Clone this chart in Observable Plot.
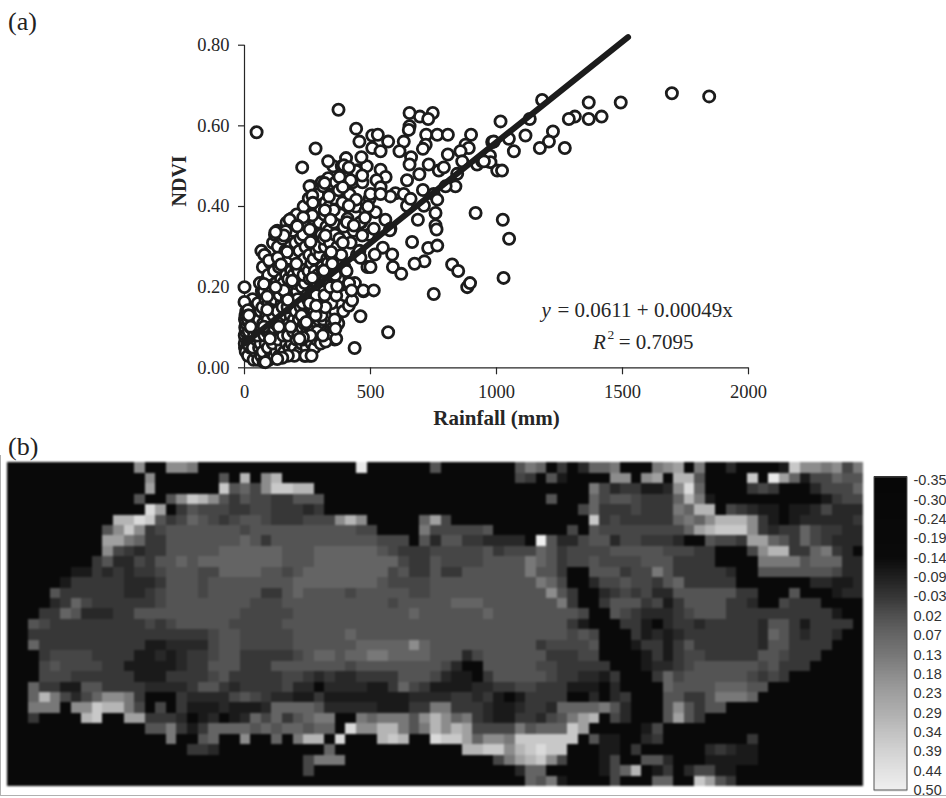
<!DOCTYPE html>
<html><head><meta charset="utf-8">
<script src="https://cdn.jsdelivr.net/npm/d3@7"></script>
<script src="https://cdn.jsdelivr.net/npm/@observablehq/plot@0.6"></script>
<style>
html,body{margin:0;padding:0;background:#fff}
#page{position:relative;width:946px;height:798px;overflow:hidden}
#page>svg{position:absolute;overflow:visible}
.tag{position:absolute;left:8px;font:26px "Liberation Serif";color:#222;line-height:28px}
</style></head><body><div id="page"></div>
<script>
// Panel (a): rainfall (mm), NDVI pairs. Back-most first.
const hiddenPairs = [
[2,.05],[4,.07],[1,.08],[5,.09],[3,.10],[6,.11],[2,.12],[4,.13],[7,.14],[1,.06],[5,.04],
[14,.03],[22,.05],[12,.06],[26,.08],[17,.09],[24,.10],[13,.12],[21,.13],[18,.15],[11,.16],
[36,.02],[44,.04],[33,.05],[47,.07],[38,.08],[42,.10],[35,.11],[46,.13],[39,.15],[32,.17],
[54,.02],[66,.03],[58,.05],[63,.06],[52,.08],[68,.10],[57,.12],[64,.14],[53,.16],[69,.19],[61,.21],
[76,.015],[88,.03],[72,.04],[84,.06],[79,.08],[90,.09],[74,.11],[86,.13],[71,.15],[83,.17],[77,.19],[89,.22],[73,.25],[81,.28],
[97,.02],[105,.04],[93,.05],[108,.07],[99,.09],[103,.10],[92,.12],[107,.14],[95,.16],[101,.18],[109,.20],[94,.23],[104,.26],
[118,.03],[126,.04],[112,.06],[129,.08],[116,.10],[123,.11],[114,.13],[128,.15],[119,.17],[111,.19],[125,.21],[117,.24],[127,.27],[113,.31],[121,.33],
[138,.03],[146,.05],[133,.07],[149,.09],[136,.10],[143,.12],[131,.14],[148,.16],[139,.18],[134,.20],[145,.22],[137,.25],[142,.28],[132,.30],[147,.33],
[158,.04],[166,.06],[153,.08],[169,.10],[156,.12],[163,.13],[151,.15],[168,.17],[159,.19],[154,.21],[165,.23],[157,.26],[162,.29],[152,.32],[167,.36],
[178,.05],[186,.06],[173,.08],[189,.10],[176,.11],[183,.13],[171,.15],[188,.18],[179,.20],[174,.22],[185,.24],[177,.27],[182,.30],[172,.33],[187,.37],
[198,.05],[206,.07],[193,.09],[209,.11],[196,.12],[203,.14],[191,.17],[208,.19],[199,.21],[194,.23],[205,.25],[197,.28],[202,.31],[192,.34],[207,.38],
[218,.04],[226,.06],[213,.08],[229,.10],[216,.12],[223,.15],[211,.17],[228,.20],[219,.22],[214,.24],[225,.26],[217,.29],[222,.32],[212,.35],
[238,.03],[246,.05],[233,.07],[249,.09],[236,.11],[243,.13],[231,.16],[248,.18],[239,.21],[234,.23],[245,.25],[237,.27],[242,.30],[232,.33],[247,.36],[235,.40],
[258,.03],[266,.06],[253,.08],[269,.10],[256,.12],[263,.15],[251,.17],[268,.19],[259,.22],[254,.24],[265,.26],[257,.28],[262,.31],[252,.35],[267,.38],[255,.42],[264,.45],
[278,.05],[286,.07],[273,.09],[289,.11],[276,.14],[283,.16],[271,.19],[288,.21],[279,.24],[274,.27],[285,.29],[277,.32],[282,.34],[272,.37],[287,.41],[275,.44],
[298,.08],[306,.10],[293,.12],[309,.15],[296,.18],[303,.20],[291,.23],[308,.25],[299,.28],[294,.30],[305,.33],[297,.36],[302,.39],[292,.43],[307,.46],
[318,.07],[326,.09],[313,.12],[329,.16],[316,.19],[323,.22],[311,.24],[328,.27],[319,.30],[314,.32],[325,.35],[317,.38],[322,.41],[312,.45],
[338,.09],[346,.11],[333,.14],[349,.17],[336,.21],[343,.23],[331,.26],[348,.29],[339,.31],[334,.34],[345,.37],[337,.40],[342,.43],[332,.47],
[358,.07],[366,.12],[353,.15],[369,.18],[356,.20],[363,.24],[351,.27],[368,.30],[359,.33],[354,.36],[365,.39],[357,.42],[362,.46],[352,.50],
[378,.15],[392,.19],[373,.22],[397,.25],[384,.28],[376,.32],[394,.35],[381,.38],[389,.41],[374,.44],[396,.47],[386,.50],
[412,.18],[438,.21],[405,.24],[446,.28],[421,.31],[433,.34],[409,.37],[442,.40],[417,.43],[429,.46],[449,.49],[403,.52],
[472,.19],[488,.25],[456,.29],[493,.33],[463,.36],[481,.39],[497,.42],[468,.46],[485,.50],
[302,.06],[322,.065],[344,.085],[352,.10],[372,.11],[335,.13],[360,.14],[382,.16],[392,.14],[345,.16],[372,.19],[398,.18],[415,.21],
[288,.09],[262,.08],[232,.075],[306,.13],[284,.18],[258,.16],[226,.13],[198,.03],[172,.03],[150,.025],[318,.18],[340,.20],[360,.23]
];
const visiblePairs = [
[48,.584],[373,.640],[282,.544],[229,.497],[332,.512],[443,.593],[456,.561],[507,.576],[529,.578],[570,.561],
[464,.522],[507,.545],[540,.537],[696,.623],[655,.632],[747,.632],[729,.617],[655,.599],[652,.590],[632,.561],
[615,.537],[661,.522],[655,.504],[721,.578],[719,.553],[708,.543],[765,.578],[807,.578],[899,.578],[877,.553],
[890,.545],[857,.537],[807,.529],[864,.512],[923,.504],[943,.512],[983,.560],[963,.512],[731,.504],[771,.489],
[791,.497],[844,.481],[837,.450],[798,.450],[694,.480],[645,.465],[708,.441],[751,.431],[765,.417],[712,.402],
[645,.402],[688,.367],[758,.384],[758,.353],[917,.384],[599,.433],[579,.425],[632,.431],[659,.419],[540,.491],
[560,.473],[524,.465],[540,.448],[500,.431],[540,.431],[443,.417],[443,.488],[421,.465],[377,.473],[394,.502],
[414,.497],[467,.477],[390,.448],[318,.458],[258,.450],[269,.427],[271,.409],[335,.425],[354,.391],[319,.391],
[414,.402],[520,.386],[341,.367],[269,.378],[233,.373],[179,.367],[209,.353],[407,.361],[460,.361],[559,.367],
[490,.400],[478,.372],[579,.345],[262,.343],[130,.340],[163,.339],
[1844,.673],[1696,.681],[1493,.658],[1366,.658],[1417,.623],[1366,.617],[1311,.623],[1287,.617],[1271,.545],[1224,.586],
[1208,.561],[1172,.545],[1181,.664],[1132,.617],[1115,.576],[1069,.537],[1049,.568],[1016,.611],[989,.561],[974,.526],
[976,.510],[950,.512],[1003,.489],[1022,.489],[1025,.367],[1050,.320],[1028,.223],
[0,.200],[0,.163],[14,.143],[14,.130],[570,.088],[437,.049],[364,.072],[311,.080],[460,.128],[358,.120],[361,.097],
[414,.154],[427,.167],[425,.192],[471,.192],[513,.192],[364,.179],[368,.202],[321,.150],[282,.130],[284,.154],
[245,.113],[218,.072],[242,.030],[266,.030],[130,.022],[83,.014],[751,.183],[884,.200],[895,.210],[824,.256],
[848,.240],[714,.264],[675,.258],[665,.312],[729,.297],[765,.303],[762,.343],[589,.250],[622,.233],[586,.281],
[549,.298],[500,.250],[517,.281],[460,.273],[577,.341],[513,.345],[467,.328],[390,.310],[321,.328],[262,.312],
[209,.351],[259,.343],[434,.353],[156,.328],[123,.336],[169,.287],[67,.290],[79,.280],[97,.266],[132,.273],
[145,.256],[206,.258],[341,.281],[344,.287],[269,.223],[315,.241],[348,.258],[189,.216],[156,.192],[77,.208],
[123,.200],[90,.177],[172,.168],[90,.144],[17,.130],[24,.102],[77,.102],[136,.102],[183,.102],[245,.113],[101,.072]
];
const scatterPairs = hiddenPairs.concat(visiblePairs);
const fitRain = [0, 1522];
const fitNdvi = [0.06, 0.82];
const rainTicks = [0, 500, 1000, 1500, 2000];
const ndviTicks = [0, 0.2, 0.4, 0.6, 0.8];

// Panel (b): gray level per grid cell, one character per cell (spaces only for reading).
const levelCodes = "0123456789abcde";
const levelValues = [-0.2,-0.10,-0.066,-0.03,0.0,0.03,0.07,0.13,0.18,0.235,0.305,0.36,0.42,0.475,0.5];
const westRows = [
"0000000000 0080088700 0000000000 000d000000",
"0000000000 0008000000 50a08a0000 0000000000",
"0000000000 0009000000 b5648bbaa0 0000000000",
"0000000000 0050058ba8 5354433555 0000000000",
"0000000000 000c903544 4334433323 0000000000",
"0000000000 aacb534654 3455433344 48a8000006",
"0000000005 8b83455555 5545555555 5554400007",
"0000000009 9763355555 5565355555 5555544405",
"0000000008 4323355555 6666665556 6666654333",
"0000000035 2243556566 6666665556 6666666433",
"0000001132 3233455544 6666554566 6666664533",
"0000013333 3222355545 5555555666 6666654444",
"0000533333 3223455545 5555335655 5545555544",
"0000236433 3333455555 5554445555 5555554555",
"0003365222 3355555555 5544444555 5555555565",
"0054333333 3334345555 5444445555 5555555555",
"0033333333 3333333334 5544444555 5565555555",
"0063333333 3331122224 5544444555 5556666686",
"0003444433 3311212334 5533333456 6566776666",
"0004544443 3111112335 5533355555 5545555555",
"0004443333 3311133334 5333334432 3223333555",
"0063311553 3332222355 3233334220 2222113643",
"006a742468 8730003222 2454322113 1111111122",
"00777088ba a740403111 2111266665 2222211133",
"0030000ab0 0993332012 0126463567 7007677758",
"0000000000 0005573136 6665656656 60c88aa757",
"0000000000 0000070056 00800607aa 0c000aba00",
"0000000000 0000000332 0000000000 6000000000",
"0000000000 0000000000 0000000047 7700000000",
"0000000000 0000000000 0000000040 0000000000",
"0000000000 0000000000 0000000000 0000000000"
];
const eastRows = [
"5000000057 6030266700 0789070020 0001b887847",
"0000000043 0510000880 890aa50000 b0d96144655",
"0000000000 0000074233 1128c60000 34300024446",
"0000000000 0500064554 3336a71000 00000001344",
"0000000000 0000463334 33376aa043 21101124222",
"9400000000 00000b3433 3336768aaa 83101222223",
"4444450000 0004054444 444469abbb 83233643322",
"2553322220 e522455244 3332005443 99653643222",
"4444453444 6534444555 5544433000 48aa3367320",
"5444455557 6534454444 5553333000 07777566622",
"5335555557 5530055534 4753333320 05555555422",
"5555555555 7640024454 4356333330 00000022112",
"5555555555 5853002343 4225555553 30005000122",
"5566655555 5573003555 3413555533 20043330000",
"5555565555 5555400543 2223455533 33333333100",
"5555555555 5553100033 1023323333 32553133330",
"5555555555 5554540003 1212333333 32653233200",
"5555555555 3444450001 3313533333 32553333000",
"5552455555 5333440000 1313443333 35543330000",
"5420055555 4433333000 1223455555 54533300000",
"4211035555 5433221300 0364555555 43430000000",
"1111223344 3331110200 0065555666 55000000000",
"2233231013 3330020230 0055335777 60000000000",
"7733321123 3266667520 0058535500 00000000000",
"a867321133 24579a0420 0059530000 00000000000",
"a8a9444475 666b900000 1400000000 00000000000",
"cbb96887bb bbbb051100 2300000000 30000000000",
"000aabb8ab cbb0001103 0000002321 10000000000",
"000000479a b840001400 5520001111 10000000000",
"0000000026 600000146a 0130244110 00000000000",
"0000000006 5710000400 06600b9530 00000000000"
];
const colorStops = [-0.35,-0.14,-0.09,-0.03,0.02,0.07,0.13,0.18,0.23,0.29,0.34,0.39,0.44,0.50];
const colorGrays = ["#070707","#0a0a0a","#1e1e1e","#373737","#505050","#646464","#787878","#8c8c8c","#9e9e9e","#b0b0b0","#c2c2c2","#d2d2d2","#e0e0e0","#f0f0f0"];
const legendLabels = ["-0.35","-0.30","-0.24","-0.19","-0.14","-0.09","-0.03","0.02","0.07","0.13","0.18","0.23","0.29","0.34","0.39","0.44","0.50"];
const legendSlots = d3.range(legendLabels.length);

const serif = "Liberation Serif";
const ink = "#262626";
const page = document.getElementById("page");
function place(node, left, top) { node.style.left = left + "px"; node.style.top = top + "px"; page.appendChild(node); }
function tag(text, top) { const d = document.createElement("div"); d.className = "tag"; d.textContent = text; d.style.top = top + "px"; page.appendChild(d); }

// ---- panel (a)
const scatter = Plot.plot({
  width: 946, height: 430,
  marginLeft: 244, marginRight: 198, marginTop: 44.7, marginBottom: 62.7,
  style: {fontFamily: serif, background: "transparent", overflow: "visible"},
  x: {domain: [0, 2000], axis: null},
  y: {domain: [0, 0.8], axis: null},
  marks: [
    Plot.ruleX([0], {y1: 0, y2: 0.8, stroke: ink, strokeWidth: 1.2}),
    Plot.ruleY([0], {stroke: ink, strokeWidth: 1.2}),
    Plot.axisX({ticks: rainTicks, tickSize: 7, tickPadding: 10, fontSize: 18.5, label: null, stroke: ink, fill: ink, strokeWidth: 1.2, tickFormat: d => String(d)}),
    Plot.axisY({ticks: ndviTicks, tickSize: 6, tickPadding: 9, fontSize: 18.5, label: null, stroke: ink, fill: ink, strokeWidth: 1.2, tickFormat: d => d.toFixed(2)}),
    Plot.dot(scatterPairs, {x: d => d[0], y: d => d[1], r: 5.6, fill: "#fff", stroke: "#1c1c1c", strokeWidth: 2.8}),
    Plot.line(fitRain.map((d, i) => [d, fitNdvi[i]]), {x: d => d[0], y: d => d[1], stroke: "#1c1c1c", strokeWidth: 6}),
    Plot.text(["NDVI"], {frameAnchor: "left", y: [0.4], dx: -65, rotate: -90, fontSize: 20, fontWeight: "bold", fill: ink}),
    Plot.text(["Rainfall (mm)"], {x: [1000], frameAnchor: "bottom", dy: 57, fontSize: 21, fontWeight: "bold", fill: ink}),
    Plot.text(["y"], {x: [1179], y: [0.142], textAnchor: "start", fontSize: 21, fontStyle: "italic", fill: ink}),
    Plot.text(["= 0.0611 + 0.00049x"], {x: [1242], y: [0.142], textAnchor: "start", fontSize: 21, fill: ink}),
    Plot.text(["R"], {x: [1383], y: [0.063], textAnchor: "start", fontSize: 21, fontStyle: "italic", fill: ink}),
    Plot.text(["2"], {x: [1440], y: [0.082], textAnchor: "start", fontSize: 13.5, fill: ink}),
    Plot.text(["= 0.7095"], {x: [1485], y: [0.063], textAnchor: "start", fontSize: 21, fill: ink})
  ]
});
place(scatter, 0, 0);

// ---- panel (b)
const cells = [];
westRows.forEach((row, r) => {
  const codes = (row + eastRows[r]).replace(/ /g, "");
  [...codes].forEach((ch, c) => cells.push({c, r, v: levelValues[levelCodes.indexOf(ch)]}));
});
const colorScale = {type: "linear", domain: colorStops, range: colorGrays, interpolate: "rgb", legend: false};
const map = Plot.plot({
  width: 946, height: 340,
  marginLeft: 0, marginRight: 0, marginTop: 0, marginBottom: 0,
  style: {background: "transparent", overflow: "visible"},
  x: {type: "band", domain: d3.range(81), range: [7.3, 863.3], padding: 0, round: false, axis: null},
  y: {type: "band", domain: d3.range(31), range: [7.3, 331], padding: 0, round: false, axis: null},
  color: colorScale,
  marks: [
    Plot.cell(cells, {x: "c", y: "r", fill: "v", shapeRendering: "crispEdges"}),
    Plot.frame({stroke: "#b0b0b0", strokeWidth: 1, anchor: "bottom"}),
    Plot.frame({stroke: "#b0b0b0", strokeWidth: 1, anchor: "left"})
  ]
});
map.querySelectorAll("g[aria-label='cell']").forEach(g => g.style.filter = "blur(0.8px)");
place(map, 0, 455);

const barValues = d3.range(-0.362, 0.5, 0.004);
const legend = Plot.plot({
  width: 86, height: 333,
  marginLeft: 0, marginRight: 0, marginTop: 0, marginBottom: 0,
  style: {fontFamily: "Liberation Sans", background: "transparent", overflow: "visible"},
  x: {domain: [0, 1], range: [14, 47], axis: null},
  y: {domain: [0, 16], range: [15, 325], axis: null},
  color: colorScale,
  marks: [
    Plot.rect(barValues, {x1: 0, x2: 1, y1: d => (d + 0.35) / 0.85 * 16, y2: d => (d + 0.3545) / 0.85 * 16 + 0.08, fill: d => Math.min(d, 0.5), shapeRendering: "crispEdges"}),
    Plot.rect([0], {x1: 0, x2: 1, y1: -0.16, y2: 16, fill: "none", stroke: "#555", strokeWidth: 1}),
    Plot.text(legendLabels, {x: () => 1, y: (d, i) => legendSlots[i], text: d => d, dx: 6, textAnchor: "start", fontSize: 14.5, fill: "#333"})
  ]
});
place(legend, 860, 465);

tag("(a)", 8);
tag("(b)", 433);
</script></body></html>
